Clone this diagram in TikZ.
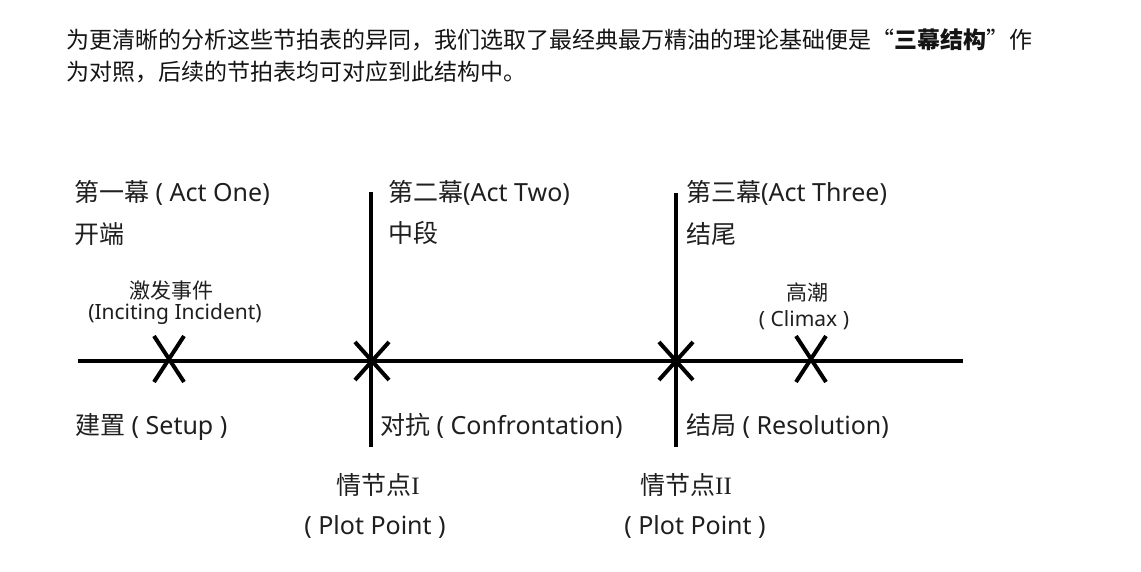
\documentclass[tikz,border=0pt]{standalone}
\usepackage{fontspec}
\setmainfont{Noto Sans}
\newfontfamily\cjk{Noto Sans CJK SC}
\newfontfamily\romanI{Liberation Serif}
\begin{document}
\begin{tikzpicture}[x=1pt,y=-1pt,
  lbl/.style={inner sep=0pt, anchor=base west, text=black!88, font=\fontsize{25}{28}\selectfont},
  lblc/.style={inner sep=0pt, anchor=base, text=black!88, font=\fontsize{25}{28}\selectfont},
  sml/.style={inner sep=0pt, anchor=base, text=black!88, font=\fontsize{21}{24}\selectfont},
  ptxt/.style={inner sep=0pt, anchor=base west, text=black!92, font=\cjk\fontsize{23}{30}\selectfont},
  axisline/.style={line width=4pt, black},
  xmark/.style={line width=4pt, black}]
\useasboundingbox (0,0) rectangle (1141,571);
\fill[white] (0,0) rectangle (1141,571);

% paragraph
\node[ptxt] (p1) at (66,48.5) {为更清晰的分析这些节拍表的异同，我们选取了最经典最万精油的理论基础便是“\textbf{三幕结构}”作};
\node[ptxt] (p2) at (66,80.5) {为对照，后续的节拍表均可对应到此结构中。};

% axis and act dividers
\coordinate (L) at (78,361);
\coordinate (R) at (963,361);
\coordinate (v1t) at (371,192);
\coordinate (v1b) at (371,447);
\coordinate (v2t) at (676,193);
\coordinate (v2b) at (676,447);
\draw[axisline] (L) -- (R);
\draw[axisline] (v1t) -- (v1b);
\draw[axisline] (v2t) -- (v2b);

% X marks
\draw[xmark, shift={(169,359)}] (-15,-23) -- (15,23) (-15,23) -- (15,-23);
\draw[xmark, shift={(372,361)}] (-17,-19) -- (17,19) (-17,19) -- (17,-19);
\draw[xmark, shift={(676,361)}] (-17,-19) -- (17,19) (-17,19) -- (17,-19);
\draw[xmark, shift={(811,359)}] (-15,-23) -- (15,23) (-15,23) -- (15,-23);

% labels above
\node[lbl] (a1) at (74,201) {{\cjk 第一幕} ( Act One)};
\node[lbl] (a1s) at (74,243) {\cjk 开端};
\node[lbl] (a2) at (388,201) {{\cjk 第二幕}(Act Two)};
\node[lbl] (a2s) at (388,242) {\cjk 中段};
\node[lbl] (a3) at (686,201) {{\cjk 第三幕}(Act Three)};
\node[lbl] (a3s) at (686,243) {\cjk 结尾};
\node[sml] (ii1) at (171,298) {\cjk 激发事件};
\node[sml] (ii2) at (175,319) {(Inciting Incident)};
\node[sml] (cl1) at (807,300) {\cjk 高潮};
\node[sml] (cl2) at (804,326) {( Climax )};

% labels below
\node[lbl] (su) at (75,434) {{\cjk 建置} ( Setup )};
\node[lbl] (co) at (380,434) {{\cjk 对抗} ( Confrontation)};
\node[lbl] (re) at (686,434) {{\cjk 结局} ( Resolution)};
\node[lblc] (pp1) at (378,494) {{\cjk 情节点}{\romanI I}};
\node[lblc] (pp1b) at (375,534) {( Plot Point )};
\node[lblc] (pp2) at (686,494) {{\cjk 情节点}{\romanI II}};
\node[lblc] (pp2b) at (695,534) {( Plot Point )};
\end{tikzpicture}
\end{document}
